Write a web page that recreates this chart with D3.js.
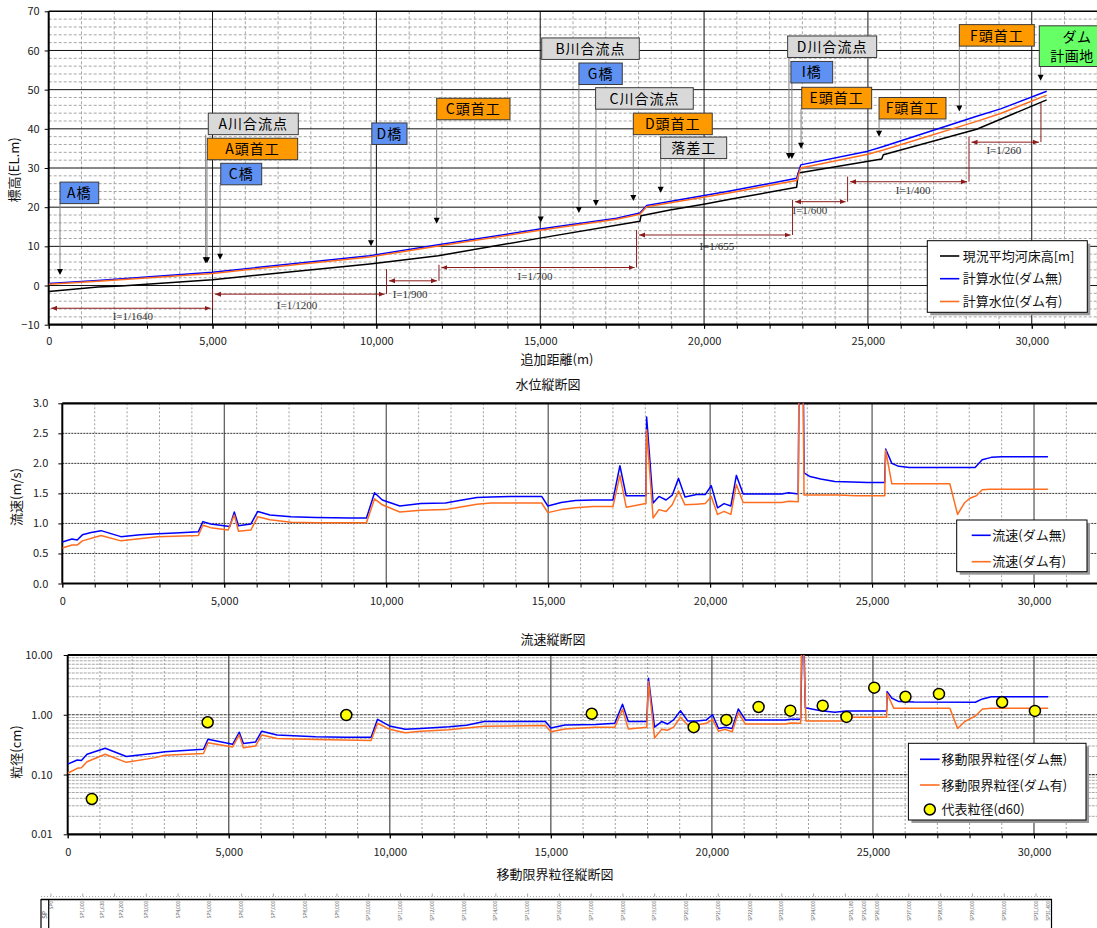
<!DOCTYPE html>
<html lang="ja">
<head>
<meta charset="utf-8">
<title>水位縦断図</title>
<script src="https://cdn.jsdelivr.net/npm/d3@7/dist/d3.min.js"></script>
<style>
  body { margin: 0; background: #ffffff; }
  svg { display: block; }
</style>
</head>
<body>
<svg id="chart" width="1097" height="928"></svg>
<script>

const FONT = "'Noto Sans CJK JP', 'Noto Sans', sans-serif";
const BLUE = "#0000ff";
const ORANGE = "#ff6d1f";

// ---------------- 水位縦断図 ----------------
// [追加距離(m), 標高(EL.m)]
const bedLevel = [
    [0, -1.5], [1500, -0.4], [2200, -0.1], [5000, 1.5], [9800, 5.5], [11890, 7.6],
    [14990, 12.1], [18040, 16.4], [18075, 17.8], [18960, 19.3], [20030, 20.8],
    [20790, 22.0], [22825, 25.1], [22875, 28.7], [25420, 32.3], [25470, 33.4],
    [28320, 39.9], [30455, 47.4]
];
const wlNoDam = [
    [0, 0.5], [1500, 1.3], [5000, 3.4], [9800, 7.6], [11890, 10.4], [14990, 14.4],
    [17330, 17.2], [18040, 18.5], [18250, 20.4], [20790, 24.1], [22825, 27.4],
    [22950, 30.8], [25000, 34.3], [25470, 35.5], [28320, 43.2], [29050, 45.1], [30455, 49.6]
];
const wlDam = [
    [0, 0.3], [1500, 1.1], [5000, 3.1], [9800, 7.3], [11890, 10.1], [14990, 14.1],
    [17330, 16.9], [18040, 18.2], [18250, 20.1], [20790, 23.7], [22825, 26.8],
    [22950, 30.0], [25000, 33.5], [25470, 34.6], [28320, 41.9], [29050, 43.9], [30455, 48.6]
];

// river bed gradient sections
const gradBreaks = [0, 5000, 10310, 11910, 17940, 22700, 24380, 28085, 30280];
const gradLevel = [-5.8, -2.2, 1.2, 4.6, 12.9, 21.4, 26.5, 36.6];
const gradTop = [-0.9, 4.2, 5.3, 14.2, 21.9, 27.8, 38.0, 46.6];
const gradText = ["I=1/1640", "I=1/1200", "I=1/900", "I=1/700", "I=1/655", "I=1/600", "I=1/400", "I=1/260"];
const gradTextAt = [[2570, -7.7], [7580, -4.9], [11030, -2.1], [14840, 2.5], [20390, 10.1], [23230, 19.3], [26380, 24.4], [29150, 34.5]];

// structures: box from/to (m), box top (EL.m), arrow station (m), arrow tip (EL.m)
const structures = [
    { text: "A橋", kind: "bridge", from: 345, to: 1526, top: 26.4, at: 345, tip: 2.7 },
    { text: "A川合流点", kind: "junction", from: 4870, to: 7617, top: 44.0, at: 4790, tip: 5.7 },
    { text: "A頭首工", kind: "weir", from: 4840, to: 7598, top: 37.6, at: 4830, tip: 5.7 },
    { text: "C橋", kind: "bridge", from: 5250, to: 6500, top: 31.2, at: 5230, tip: 6.6 },
    { text: "D橋", kind: "bridge", from: 9860, to: 10934, top: 41.5, at: 9835, tip: 10.0 },
    { text: "C頭首工", kind: "weir", from: 11840, to: 14077, top: 47.8, at: 11840, tip: 15.8 },
    { text: "B川合流点", kind: "junction", from: 15045, to: 18023, top: 63.2, at: 15015, tip: 16.1 },
    { text: "G橋", kind: "bridge", from: 16180, to: 17504, top: 56.8, at: 16180, tip: 18.5 },
    { text: "C川合流点", kind: "junction", from: 16690, to: 19671, top: 50.5, at: 16700, tip: 20.3 },
    { text: "D頭首工", kind: "weir", from: 17840, to: 20250, top: 44.0, at: 17840, tip: 21.6 },
    { text: "落差工", kind: "junction", from: 18675, to: 20690, top: 37.9, at: 18675, tip: 23.7 },
    { text: "D川合流点", kind: "junction", from: 22550, to: 25267, top: 63.7, at: 22590, tip: 32.3 },
    { text: "I橋", kind: "bridge", from: 22650, to: 23924, top: 57.2, at: 22680, tip: 32.3 },
    { text: "E頭首工", kind: "weir", from: 22980, to: 25114, top: 50.6, at: 22960, tip: 34.9 },
    { text: "F頭首工", kind: "weir", from: 25340, to: 27382, top: 48.0, at: 25340, tip: 38.0 },
    { text: "F頭首工", kind: "weir", from: 27790, to: 30077, top: 66.6, at: 27790, tip: 44.4 },
    { text: "ダム|計画地", kind: "dam", from: 30230, to: 32220, top: 66.3, at: 30270, tip: 52.3 }
];

// ---------------- 流速縦断図 ----------------
// [追加距離(m), 流速(m/s)]
const velNoDam = [
    [0, 0.69], [300, 0.74], [460, 0.725], [620, 0.81], [890, 0.85], [1195, 0.88], [1810, 0.78],
    [2410, 0.81], [2950, 0.83], [3490, 0.84], [4200, 0.86], [4340, 1.03], [4580, 0.99],
    [5170, 0.95], [5310, 1.19], [5440, 0.96], [5820, 0.99], [6035, 1.20], [6410, 1.14],
    [7060, 1.11], [7820, 1.10], [8900, 1.09], [9390, 1.09], [9640, 1.51], [9880, 1.39],
    [10420, 1.29], [11070, 1.33], [11830, 1.34], [12260, 1.38], [12800, 1.43], [13230, 1.44],
    [13990, 1.45], [14800, 1.45], [14990, 1.29], [15400, 1.35], [15840, 1.38], [16390, 1.39],
    [17000, 1.39], [17215, 1.96], [17410, 1.46], [18020, 1.46], [18040, 2.77], [18240, 1.34],
    [18420, 1.45], [18640, 1.39], [18830, 1.47], [19025, 1.75], [19225, 1.44], [19580, 1.48],
    [19850, 1.48], [20035, 1.63], [20230, 1.26], [20430, 1.33], [20640, 1.29], [20810, 1.80],
    [21020, 1.49], [22210, 1.49], [22425, 1.51], [22720, 1.49], [22810, 8.0], [22900, 1.84],
    [23085, 1.78], [23410, 1.74], [23850, 1.70], [24400, 1.69], [24850, 1.68], [25390, 1.68],
    [25420, 2.24], [25610, 2.00], [25825, 1.95], [26150, 1.93], [28180, 1.93], [28400, 2.06],
    [28680, 2.10], [29000, 2.11], [30430, 2.11]
];
const velDam = [
    [0, 0.59], [300, 0.64], [460, 0.64], [620, 0.71], [1195, 0.80], [1810, 0.71], [2950, 0.78],
    [4200, 0.80], [4340, 0.97], [4580, 0.93], [5120, 0.89], [5310, 1.14], [5440, 0.87],
    [5820, 0.89], [6035, 1.11], [6410, 1.06], [7060, 1.02], [7820, 1.01], [9390, 1.01],
    [9640, 1.41], [9880, 1.31], [10420, 1.19], [11070, 1.22], [11830, 1.23], [12260, 1.27],
    [12800, 1.32], [13230, 1.34], [14800, 1.34], [14990, 1.18], [15400, 1.23], [15840, 1.26],
    [16390, 1.28], [17000, 1.28], [17215, 1.80], [17410, 1.27], [18020, 1.33], [18040, 2.56],
    [18240, 1.09], [18420, 1.23], [18640, 1.20], [18830, 1.31], [19025, 1.54], [19225, 1.31],
    [19580, 1.32], [19850, 1.33], [20035, 1.45], [20230, 1.15], [20430, 1.20], [20640, 1.15],
    [20810, 1.65], [21020, 1.35], [22210, 1.35], [22425, 1.37], [22720, 1.36], [22790, 8.0],
    [22900, 1.475], [23960, 1.475], [24520, 1.46], [25390, 1.46], [25420, 2.22], [25610, 1.66],
    [27400, 1.66], [27640, 1.15], [27850, 1.34], [28020, 1.42], [28220, 1.46], [28400, 1.56],
    [28620, 1.57], [30430, 1.57]
];

// ---------------- 移動限界粒径縦断図 ----------------
// [追加距離(m), 粒径(cm)]
const gsNoDam = [
    [0, 0.149], [295, 0.175], [425, 0.171], [600, 0.218], [1165, 0.275], [1820, 0.20],
    [2690, 0.227], [3020, 0.24], [4215, 0.265], [4355, 0.39], [5120, 0.32], [5325, 0.51],
    [5455, 0.33], [5830, 0.35], [6025, 0.53], [6500, 0.46], [7700, 0.43], [8610, 0.42],
    [9420, 0.42], [9620, 0.84], [9990, 0.65], [10480, 0.57], [10970, 0.59], [11840, 0.63],
    [12380, 0.67], [12930, 0.77], [14830, 0.77], [15000, 0.60], [15440, 0.675], [16390, 0.69],
    [16985, 0.72], [17225, 1.50], [17405, 0.77], [17980, 0.77], [18030, 4.08], [18220, 0.62],
    [18440, 0.77], [18620, 0.70], [18810, 0.82], [19025, 1.17], [19250, 0.79], [19520, 0.79],
    [19830, 0.82], [20020, 1.0], [20205, 0.59], [20405, 0.62], [20630, 0.59], [20820, 1.25],
    [21040, 0.82], [22280, 0.82], [22440, 0.84], [22755, 0.84], [22830, 100], [22900, 1.31],
    [23380, 1.17], [23820, 1.10], [24155, 1.16], [25425, 1.16], [25440, 2.44], [25590, 1.89],
    [25810, 1.66], [26280, 1.63], [28180, 1.62], [28400, 1.84], [28680, 2.0], [30440, 2.0]
];
const gsDam = [
    [0, 0.105], [295, 0.127], [425, 0.13], [600, 0.164], [1165, 0.218], [1820, 0.16],
    [2690, 0.19], [3020, 0.21], [4215, 0.225], [4355, 0.34], [5120, 0.29], [5325, 0.46],
    [5455, 0.28], [5830, 0.30], [6025, 0.46], [6500, 0.40], [7700, 0.385], [9420, 0.37],
    [9620, 0.72], [9990, 0.57], [10480, 0.50], [10970, 0.53], [11840, 0.56], [12930, 0.64],
    [14830, 0.66], [15000, 0.52], [15440, 0.58], [16390, 0.62], [16985, 0.62], [17225, 1.24],
    [17405, 0.58], [17980, 0.62], [18030, 3.58], [18220, 0.41], [18440, 0.57], [18620, 0.55],
    [18810, 0.62], [19025, 0.91], [19250, 0.675], [19520, 0.675], [19830, 0.72], [20020, 0.84],
    [20205, 0.53], [20405, 0.57], [20630, 0.52], [20820, 1.08], [21040, 0.70], [22280, 0.70],
    [22440, 0.73], [22755, 0.72], [22800, 100], [22920, 0.79], [24155, 0.79], [24380, 0.91],
    [25425, 0.91], [25435, 2.29], [25650, 1.28], [27390, 1.28], [27630, 0.59], [27850, 0.77],
    [28180, 0.955], [28400, 1.25], [28680, 1.28], [30440, 1.28]
];
const d60Dist = [750, 4345, 8650, 16270, 19435, 20450, 21450, 22435, 23440, 24180, 25040, 26010, 27050, 29010, 30030];
const d60Size = [0.039, 0.75, 0.99, 1.04, 0.62, 0.82, 1.35, 1.17, 1.42, 0.92, 2.84, 2.0, 2.23, 1.62, 1.16];

// ---------------- 測点 ----------------
const spStations = [0, 1000, 1630, 2200, 3000, 4000, 5000, 6000, 7000, 8000, 9000, 10000,
    11000, 12000, 13000, 14000, 15000, 16000, 17000, 18000, 19000, 20000, 21000, 22000,
    23000, 24000, 25180, 25600, 26000, 27000, 28000, 29000, 30000, 31000, 31400];
const spLabels = ["SP0", "SP1,000", "SP1,630", "SP2,200", "SP3,000", "SP4,000", "SP5,000",
    "SP6,000", "SP7,000", "SP8,000", "SP9,000", "SP10,000", "SP11,000", "SP12,000", "SP13,000",
    "SP14,000", "SP15,000", "SP16,000", "SP17,000", "SP18,000", "SP19,000", "SP20,000",
    "SP21,000", "SP22,000", "SP23,000", "SP24,000", "SP25,180", "SP25,600", "SP26,000",
    "SP27,000", "SP28,000", "SP29,000", "SP30,000", "SP31,000", "SP31,400"];

// tick values
const distTicks = d3.range(0, 30001, 5000);
const levelTicks = d3.range(-10, 71, 10);
const velTicks = d3.range(0, 3.01, 0.5);
const gsTicks = [0.01, 0.1, 1, 10];


class ProfileChart {

    constructor(svg, o) {
        this.svg = svg;
        this.o = o;
        this.g = svg.append("g");
        this.x = d3.scaleLinear().domain([0, 32000]).range([o.left, o.right]);
        this.y = (o.log ? d3.scaleLog() : d3.scaleLinear())
            .domain(o.yDomain).range([o.bottom, o.top]);

        svg.append("clipPath").attr("id", "clip-" + o.name)
            .append("rect")
            .attr("x", o.left).attr("y", o.top)
            .attr("width", o.right - o.left).attr("height", o.bottom - o.top);
    }

    grid(values, dir, color, width, dash) {
        var o = this.o;
        var sel = this.g.append("g").selectAll("line").data(values).join("line");
        if (dir === "x") {
            sel.attr("x1", d => this.x(d)).attr("x2", d => this.x(d))
                .attr("y1", o.top).attr("y2", o.bottom);
        } else {
            sel.attr("y1", d => this.y(d)).attr("y2", d => this.y(d))
                .attr("x1", o.left).attr("x2", o.right);
        }
        sel.attr("stroke", color).attr("stroke-width", width)
            .attr("stroke-dasharray", dash);
    }

    frame(w) {
        var o = this.o;
        var g = this.g.append("g").attr("stroke", "#000");
        g.append("line").attr("x1", o.left).attr("x2", o.right).attr("y1", o.top).attr("y2", o.top).attr("stroke-width", w);
        g.append("line").attr("x1", o.left).attr("x2", o.right).attr("y1", o.bottom).attr("y2", o.bottom).attr("stroke-width", 2.2);
        g.append("line").attr("x1", o.left).attr("x2", o.left).attr("y1", o.top).attr("y2", o.bottom).attr("stroke-width", 2);
    }

    axes(yTicks, yFormat, yPad, xPad) {
        var o = this.o;

        var ya = this.g.append("g")
            .attr("transform", "translate(" + o.left + ",0)")
            .call(d3.axisLeft(this.y).tickValues(yTicks).tickFormat(yFormat)
                .tickSize(4).tickPadding(yPad));
        ya.select(".domain").remove();

        var xm = this.g.append("g")
            .attr("transform", "translate(0," + o.bottom + ")")
            .call(d3.axisBottom(this.x).tickValues(d3.range(0, 32001, 1000))
                .tickFormat("").tickSize(4));
        xm.select(".domain").remove();

        var xa = this.g.append("g")
            .attr("transform", "translate(0," + o.bottom + ")")
            .call(d3.axisBottom(this.x).tickValues(distTicks).tickFormat(d3.format(","))
                .tickSize(4).tickPadding(xPad));
        xa.select(".domain").remove();

        [ya, xm, xa].forEach(a => {
            a.attr("font-family", FONT).attr("font-size", 11);
            a.selectAll("text").attr("fill", "#222");
            a.selectAll("line").attr("stroke", "#000");
        });
    }

    label(text, x, y, rotate) {
        this.g.append("text")
            .attr("transform", "translate(" + x + "," + y + ")" + (rotate ? " rotate(-90)" : ""))
            .attr("text-anchor", "middle")
            .attr("font-family", FONT).attr("font-size", 13).attr("fill", "#111")
            .text(text);
    }

    line(data, color, width) {
        this.g.append("path").datum(data)
            .attr("clip-path", "url(#clip-" + this.o.name + ")")
            .attr("fill", "none")
            .attr("stroke", color)
            .attr("stroke-width", width)
            .attr("stroke-linejoin", "round")
            .attr("d", d3.line().x(d => this.x(d[0])).y(d => this.y(d[1])));
    }

    // box = [x, y, w, h], rows = [label, color, kind, cy], sw = [x0, x1, textX]
    legend(box, rows, sw) {
        var g = this.g.append("g");
        g.append("rect").attr("x", box[0] + 3).attr("y", box[1] + 3)
            .attr("width", box[2]).attr("height", box[3]).attr("fill", "#9a9a9a");
        g.append("rect").attr("x", box[0]).attr("y", box[1])
            .attr("width", box[2]).attr("height", box[3])
            .attr("fill", "#fff").attr("stroke", "#000").attr("stroke-width", 1);

        rows.forEach(r => {
            if (r[2] === "dot") {
                g.append("circle").attr("cx", (sw[0] + sw[1]) / 2).attr("cy", r[3]).attr("r", 5.5)
                    .attr("fill", "#ffff00").attr("stroke", "#000").attr("stroke-width", 1.5);
            } else {
                g.append("line").attr("x1", sw[0]).attr("x2", sw[1]).attr("y1", r[3]).attr("y2", r[3])
                    .attr("stroke", r[1]).attr("stroke-width", 1.6);
            }
            g.append("text").attr("x", sw[2]).attr("y", r[3] + 4.6)
                .attr("font-family", FONT).attr("font-size", 13).attr("fill", "#111")
                .text(r[0]);
        });
    }

}


var svg = d3.select("#chart");

var defs = svg.append("defs");
defs.append("marker").attr("id", "redHead")
    .attr("markerUnits", "userSpaceOnUse")
    .attr("markerWidth", 7).attr("markerHeight", 6)
    .attr("refX", 6).attr("refY", 3)
    .attr("orient", "auto-start-reverse")
    .append("path").attr("d", "M0,0.5L6,3L0,5.5Z").attr("fill", "#8c1c1c");


// ---------- chart 1 : water level ----------
var c1 = new ProfileChart(svg, { name: "wl", left: 48.7, right: 1097.3, top: 11.3, bottom: 324.7, yDomain: [-10, 70] });

c1.grid(d3.range(1000, 32001, 1000).filter(d => d % 5000), "x", "#a6a6a6", 1, "3,2");
c1.grid(d3.range(-8, 70, 2).filter(d => d % 10), "y", "#a6a6a6", 1, "3,2");
c1.grid(d3.range(5000, 32001, 5000), "x", "#111", 1, null);
c1.grid(d3.range(0, 61, 10), "y", "#111", 1, null);
c1.frame(1.6);
c1.axes(levelTicks, d3.format("d"), 5, 8.5);
c1.label("標高(EL.m)", 19, 170, true);
c1.label("追加距離(m)", 557, 364, false);
c1.label("水位縦断図", 548, 389, false);

// gradient sections
(function () {
    var g = c1.g.append("g");
    var red = "#8c1c1c";
    gradLevel.forEach((lv, i) => {
        var xa = c1.x(gradBreaks[i]) + 2.5;
        var xb = c1.x(gradBreaks[i + 1]) - 2;
        var yy = c1.y(lv);
        g.append("line").attr("x1", xa).attr("x2", xb).attr("y1", yy).attr("y2", yy)
            .attr("stroke", red).attr("stroke-width", 1)
            .attr("marker-start", "url(#redHead)").attr("marker-end", "url(#redHead)");
        g.append("line")
            .attr("x1", c1.x(gradBreaks[i + 1])).attr("x2", c1.x(gradBreaks[i + 1]))
            .attr("y1", yy).attr("y2", c1.y(gradTop[i]))
            .attr("stroke", red).attr("stroke-width", 1);
        g.append("text")
            .attr("x", c1.x(gradTextAt[i][0])).attr("y", c1.y(gradTextAt[i][1]) + 4)
            .attr("text-anchor", "middle")
            .attr("font-family", "'Liberation Serif', serif").attr("font-size", 11)
            .attr("fill", "#333")
            .text(gradText[i]);
    });
})();

c1.line(bedLevel, "#000", 1.5);
c1.line(wlNoDam, BLUE, 1.5);
c1.line(wlDam, ORANGE, 1.5);

// structure labels
(function () {
    var fills = { bridge: "#5f91f3", weir: "#ff9900", junction: "#d9d9d9", dam: "#66ff66" };
    var g = c1.g.append("g");

    structures.forEach(s => {
        var h = s.kind === "dam" ? 40.7 : 21.5;
        var ax = c1.x(s.at), ay = c1.y(s.tip);
        g.append("line").attr("x1", ax).attr("x2", ax)
            .attr("y1", c1.y(s.top) + h).attr("y2", ay - 5)
            .attr("stroke", "#808080").attr("stroke-width", 1);
        g.append("path")
            .attr("d", "M" + (ax - 3) + "," + (ay - 6) + "L" + (ax + 3) + "," + (ay - 6) + "L" + ax + "," + ay + "Z")
            .attr("fill", "#000");
    });

    structures.forEach(s => {
        var h = s.kind === "dam" ? 40.7 : 21.5;
        var x0 = c1.x(s.from), x1 = c1.x(s.to), y0 = c1.y(s.top);
        g.append("rect").attr("x", x0).attr("y", y0)
            .attr("width", x1 - x0).attr("height", h)
            .attr("fill", fills[s.kind]).attr("stroke", "#3a3a3a").attr("stroke-width", 1);
        var lines = s.text.split("|");
        lines.forEach((t, i) => {
            g.append("text")
                .attr("x", (x0 + x1) / 2 + (lines.length > 1 && i === 0 ? 5 : 0))
                .attr("y", lines.length > 1 ? y0 + 16.5 + i * 19.2 : y0 + h / 2 + 5.2)
                .attr("text-anchor", "middle")
                .attr("font-family", FONT).attr("font-size", 14)
                .attr("letter-spacing", lines.length > 1 ? 0.5 : 1)
                .attr("fill", "#000")
                .text(t);
        });
    });
})();

c1.legend([927.3, 240.7, 160, 71.6],
    [["現況平均河床高[m]", "#000", "line", 256], ["計算水位(ダム無)", BLUE, "line", 278.7], ["計算水位(ダム有)", ORANGE, "line", 301.5]],
    [940, 959.3, 962.7]);


// ---------- chart 2 : velocity ----------
var c2 = new ProfileChart(svg, { name: "vel", left: 62.3, right: 1098.8, top: 403.3, bottom: 583.5, yDomain: [0, 3] });

c2.grid(d3.range(1000, 32001, 1000).filter(d => d % 5000), "x", "#a0a0a0", 1, "2,2");
c2.grid(d3.range(0.5, 2.51, 0.5), "y", "#333", 1, "2,1");
c2.grid(d3.range(5000, 32001, 5000), "x", "#333", 1, null);
c2.frame(2.2);
c2.axes(velTicks, d3.format(".1f"), 10, 9.7);
c2.label("流速(m/s)", 21, 497, true);
c2.label("流速縦断図", 553, 644, false);

c2.line(velNoDam, BLUE, 1.5);
c2.line(velDam, ORANGE, 1.5);

c2.legend([956.7, 520, 130.3, 51.7],
    [["流速(ダム無)", BLUE, "line", 535.3], ["流速(ダム有)", ORANGE, "line", 561.7]],
    [971.7, 990.7, 992.3]);


// ---------- chart 3 : critical grain size ----------
var c3 = new ProfileChart(svg, { name: "gs", left: 67.7, right: 1098.4, top: 655, bottom: 834.3, yDomain: [0.01, 10], log: true });

var minorLog = [];
[0.01, 0.1, 1].forEach(dec => d3.range(2, 10).forEach(k => minorLog.push(dec * k)));

c3.grid(d3.range(1000, 32001, 1000).filter(d => d % 5000), "x", "#a0a0a0", 1, "2,2");
c3.grid(minorLog, "y", "#a8a8a8", 1, "3,1");
c3.grid([0.1, 1], "y", "#333", 1.2, "3,1");
c3.grid(d3.range(5000, 32001, 5000), "x", "#555", 1.3, null);
c3.frame(2.2);
c3.axes(gsTicks, d3.format(".2f"), 11, 9.9);
c3.label("粒径(cm)", 21, 752, true);
c3.label("移動限界粒径縦断図", 555, 879, false);

c3.line(gsNoDam, BLUE, 1.5);
c3.line(gsDam, ORANGE, 1.5);

c3.g.append("g").selectAll("circle")
    .data(d3.zip(d60Dist, d60Size))
    .join("circle")
    .attr("cx", d => c3.x(d[0]))
    .attr("cy", d => c3.y(d[1]))
    .attr("r", 5.5)
    .attr("fill", "#ffff00")
    .attr("stroke", "#000")
    .attr("stroke-width", 1.5);

c3.legend([908.4, 743.3, 177.6, 76.7],
    [["移動限界粒径(ダム無)", BLUE, "line", 759.3], ["移動限界粒径(ダム有)", ORANGE, "line", 785], ["代表粒径(d60)", "#000", "dot", 809.5]],
    [920, 939.6, 941.4]);


// ---------- station strip ----------
(function () {
    var sx = d3.scaleLinear().domain([0, 31000]).range([51, 1036]);
    var g = svg.append("g");

    g.append("line").attr("x1", 41).attr("x2", 1052).attr("y1", 896.5).attr("y2", 896.5)
        .attr("stroke", "#aaa").attr("stroke-dasharray", "1,2");
    g.selectAll(".sptick").data(d3.range(0, 31001, 1000)).join("line")
        .attr("x1", d => sx(d)).attr("x2", d => sx(d))
        .attr("y1", 893.5).attr("y2", 896.5).attr("stroke", "#aaa");

    g.append("line").attr("x1", 41).attr("x2", 1052).attr("y1", 899.5).attr("y2", 899.5)
        .attr("stroke", "#000").attr("stroke-width", 1.5);
    [41, 48.7, 1051.5].forEach(x => {
        g.append("line").attr("x1", x).attr("x2", x).attr("y1", 899).attr("y2", 928)
            .attr("stroke", "#000").attr("stroke-width", 1.2);
    });

    g.append("text").attr("transform", "translate(44.8,915) rotate(-90)")
        .attr("text-anchor", "middle").attr("dy", "0.35em")
        .attr("font-family", FONT).attr("font-size", 6).attr("fill", "#444").text("SP");

    g.selectAll(".splabel").data(d3.zip(spStations, spLabels)).join("text")
        .attr("transform", d => "translate(" + sx(d[0]) + ",901) rotate(-90)")
        .attr("text-anchor", "end")
        .attr("dy", "0.35em")
        .attr("font-family", FONT).attr("font-size", 4.6).attr("fill", "#555")
        .text(d => d[1]);
})();

</script>
</body>
</html>
